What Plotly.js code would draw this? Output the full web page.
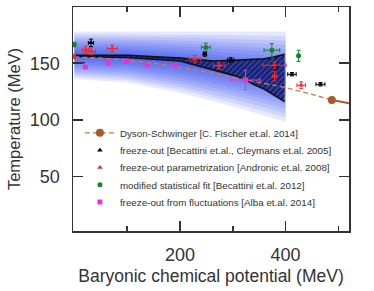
<!DOCTYPE html>
<html><head><meta charset="utf-8">
<script src="https://cdn.plot.ly/plotly-3.0.1.min.js"></script>
<style>html,body{margin:0;padding:0;background:#fff}#plot{width:374px;height:291px}</style>
</head><body><div id="plot"></div>
<script>
// ---- data ----
// Dyson-Schwinger crossover line (dashed) and critical end point
const dsX = [0, 50, 100, 150, 200, 250, 300, 350, 400, 450, 487.5];
const dsY = [155.5, 154.5, 152.5, 150, 146.5, 142.5, 137.5, 133, 128.5, 122.5, 117.5];
const dsSolidX = [487.5, 520];
const dsSolidY = [117.5, 114.5];
const cepX = [487.5];
const cepY = [117.5];

// hatched band upper / lower edges
const bandX = [0, 100, 200, 263, 300, 326, 341, 360, 379, 398];
const bandUp = [157, 157, 154.5, 152, 152.5, 153, 153, 154, 155.6, 158];
const bandLo = [156, 155, 152, 144, 139.5, 135, 131, 127, 121.7, 116];

// blue gradient band: centre and outer edges
const glowX = [0, 100, 200, 300, 400];
const glowMid = [157, 155, 151, 145, 138];
const glowTop = [178, 178, 178, 178, 178];
const glowBot = [136, 133, 124, 112, 98];

// short lattice marker at mu=0
const latX = [0, 20];
const latY = [150.5, 150.5];

// freeze-out [Becattini, Cleymans 2005]
const bkX = [31.5, 247, 296, 380.5, 412, 466];
const bkY = [168, 158.2, 153, 146.2, 140.3, 131.4];
const bkEx = [5, 3, 6, 4, 8, 8.5];
const bkEy = [3.3, 2, 2, 2, 1.5, 1.5];

// freeze-out parametrization [Andronic 2008]
const rdX = [0, 21, 31.5, 71.7, 228, 274, 379, 379, 429.5];
const rdY = [156, 162, 160.6, 163, 153.8, 147.9, 148.2, 138.5, 130.5];
const rdEx = [2, 6, 8.5, 9.4, 10.7, 11, 22, 4, 8];
const rdEy = [2, 3, 3, 3, 3, 3, 3, 4, 3];

// modified statistical fit [Becattini 2012]
const gnX = [0, 249, 374, 424.5];
const gnY = [166.5, 164, 161.5, 156.5];
const gnEx = [2, 8.5, 14.8, 2];
const gnEy = [2, 3.7, 5.9, 5];

// freeze-out from fluctuations [Alba 2014]
const mgX = [21, 64, 98.7, 138, 190.6, 324];
const mgY = [146.7, 150.3, 151.8, 148.2, 148.2, 135.2];
const mgEx = [0, 0, 0, 0, 0, 28];
const mgEy = [0, 0, 0, 0, 0, 8.6];

const legendNames = [
  'Dyson-Schwinger [C. Fischer et.al. 2014]',
  'freeze-out [Becattini et.al., Cleymans et.al. 2005]',
  'freeze-out parametrization [Andronic et.al. 2008]',
  'modified statistical fit [Becattini et.al. 2012]',
  'freeze-out from fluctuations [Alba et.al. 2014]'
];

// ---- traces ----
const traces = [];
const nLayers = 12;
for (let k = nLayers; k >= 1; k--) {
  const f = Math.pow(k / nLayers, 1.2);
  const up = glowMid.map((m, i) => m + f * (glowTop[i] - m));
  const lo = glowMid.map((m, i) => m + f * (glowBot[i] - m));
  traces.push({
    x: glowX.concat(glowX.slice().reverse()),
    y: up.concat(lo.slice().reverse()),
    mode: 'lines', fill: 'toself', line: {width: 0},
    fillcolor: 'rgba(35,60,235,0.115)', showlegend: false, hoverinfo: 'skip'
  });
}
traces.push({
  x: bandX.concat(bandX.slice().reverse()),
  y: bandUp.concat(bandLo.slice().reverse()),
  mode: 'lines', fill: 'toself', line: {width: 0},
  fillcolor: 'rgba(40,55,160,0.92)',
  fillpattern: {shape: '/', fgcolor: 'rgb(15,20,65)', bgcolor: 'rgba(40,55,160,0.92)', size: 4, solidity: 0.35},
  showlegend: false, hoverinfo: 'skip'
});
traces.push({x: bandX, y: bandUp, mode: 'lines', line: {color: '#111', width: 1.6}, showlegend: false});
traces.push({x: bandX, y: bandLo, mode: 'lines', line: {color: '#111', width: 1.6}, showlegend: false});
traces.push({x: latX, y: latY, mode: 'lines', line: {color: '#1c2a6a', width: 1.5}, showlegend: false});
traces.push({x: dsX, y: dsY, mode: 'lines', line: {color: 'rgb(205,125,80)', width: 1.4, dash: '5px,3px'}, showlegend: false});
traces.push({x: dsSolidX, y: dsSolidY, mode: 'lines', line: {color: 'rgb(170,90,40)', width: 2}, showlegend: false});
traces.push({x: cepX, y: cepY, mode: 'lines+markers', name: legendNames[0],
  line: {color: 'rgb(200,120,75)', width: 1.4, dash: '5px,3px'},
  marker: {color: 'rgb(170,90,40)', size: 8, symbol: 'circle'}});

function pts(x, y, ex, ey, color, symbol, name) {
  return {x: x, y: y, mode: 'markers', name: name,
    marker: {color: color, size: 5, symbol: symbol},
    error_x: {type: 'data', array: ex, color: color, thickness: 1, width: 2},
    error_y: {type: 'data', array: ey, color: color, thickness: 1, width: 2}};
}
traces.push(pts(bkX, bkY, bkEx, bkEy, '#000', 'triangle-up', legendNames[1]));
traces.push(pts(rdX, rdY, rdEx, rdEy, 'rgb(245,40,40)', 'triangle-up', legendNames[2]));
traces.push(pts(gnX, gnY, gnEx, gnEy, 'rgb(20,135,45)', 'circle', legendNames[3]));
traces.push(pts(mgX, mgY, mgEx, mgEy, 'rgb(235,50,215)', 'square', legendNames[4]));

const font = {family: 'Liberation Sans, Arial, sans-serif', color: '#333'};
const layout = {
  width: 374, height: 291,
  margin: {l: 73, r: 25, t: 7, b: 60},
  paper_bgcolor: '#fff', plot_bgcolor: 'rgba(0,0,0,0)',
  font: font,
  showlegend: true,
  legend: {x: 0.025, y: 0.503, xanchor: 'left', yanchor: 'top', bgcolor: 'rgba(0,0,0,0)',
    font: {family: font.family, size: 9.8, color: '#333'}, tracegroupgap: 0},
  xaxis: {range: [-2.5, 520], tickvals: [200, 400], ticktext: ['200', '400'],
    ticks: 'inside', ticklen: 10, tickwidth: 1.5, tickcolor: '#333',
    minor: {tickvals: [100, 300, 500], ticks: 'inside', ticklen: 5, tickwidth: 1.5, tickcolor: '#333'},
    showline: true, linecolor: '#333', linewidth: 1.5, mirror: 'ticks', showgrid: false, zeroline: false,
    tickfont: {size: 18, color: '#333'}, ticklabelstandoff: 7,
    title: {text: 'Baryonic chemical potential (MeV)', font: {size: 17.5, color: '#333'}, standoff: 5}},
  yaxis: {range: [1.7, 199.7], tickvals: [50, 100, 150], ticktext: ['50', '100', '150'],
    ticks: 'inside', ticklen: 10, tickwidth: 1.5, tickcolor: '#333',
    showline: true, linecolor: '#333', linewidth: 1.5, mirror: 'ticks', showgrid: false, zeroline: false,
    tickfont: {size: 18, color: '#333'}, ticklabelstandoff: 8,
    title: {text: 'Temperature (MeV)', font: {size: 16.5, color: '#333'}, standoff: 5}}
};
Plotly.newPlot('plot', traces, layout, {displayModeBar: false, staticPlot: true}).then(function (gd) {
  // tighten legend row spacing to match the reference (17.3 px per row)
  const items = gd.querySelectorAll('.legend .traces');
  if (!items.length) return;
  const m = /translate\(\s*([-\d.]+)[ ,]+([-\d.]+)\s*\)/.exec(items[0].getAttribute('transform') || '');
  if (!m) return;
  const x0 = parseFloat(m[1]), y0 = parseFloat(m[2]);
  items.forEach(function (el, i) {
    el.setAttribute('transform', 'translate(' + x0 + ',' + (y0 + i * 17.3) + ')');
  });
});
</script></body></html>
